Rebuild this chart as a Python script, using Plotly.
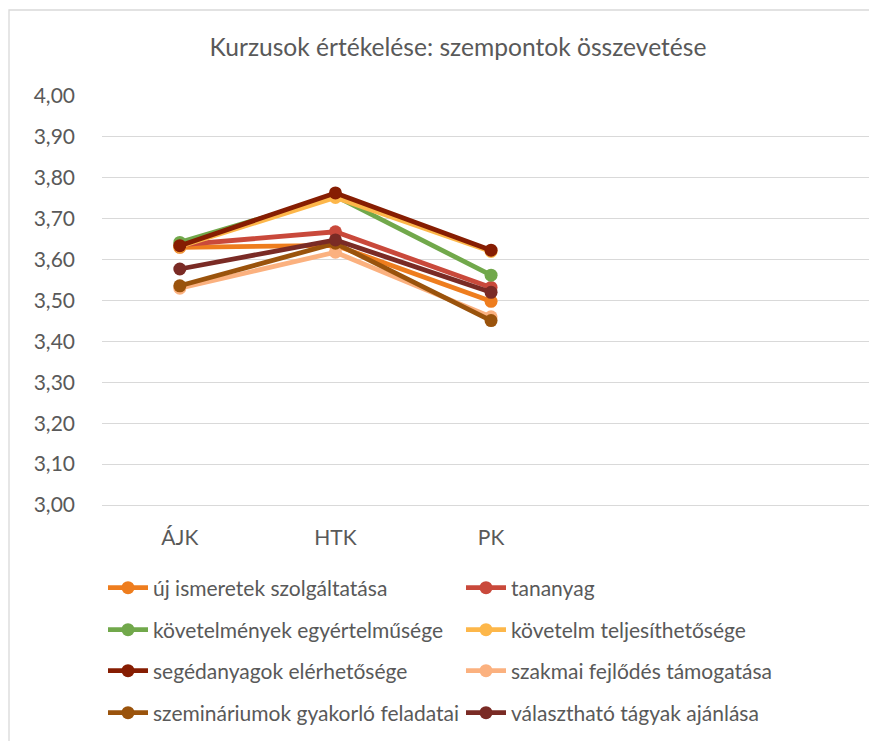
import plotly.graph_objects as go

categories = ["ÁJK", "HTK", "PK"]
series_names = [
    "új ismeretek szolgáltatása",
    "tananyag",
    "követelmények egyértelműsége",
    "követelm teljesíthetősége",
    "segédanyagok elérhetősége",
    "szakmai fejlődés támogatása",
    "szemináriumok gyakorló feladatai",
    "választható tágyak ajánlása",
]
uj_ismeretek = [3.630, 3.635, 3.498]
tananyag = [3.636, 3.668, 3.532]
kovetelmenyek = [3.642, 3.755, 3.562]
kovetelm_telj = [3.632, 3.752, 3.620]
segedanyagok = [3.634, 3.763, 3.623]
szakmai = [3.530, 3.618, 3.460]
szeminarium = [3.536, 3.640, 3.451]
valaszthato = [3.577, 3.648, 3.520]
series_values = [uj_ismeretek, tananyag, kovetelmenyek, kovetelm_telj,
                 segedanyagok, szakmai, szeminarium, valaszthato]
colors = ["#EE7D1E", "#C9493B", "#71A84B", "#FDB74A",
          "#861D02", "#FBB17F", "#9A530C", "#7A2B25"]
y_ticks = [3.0, 3.1, 3.2, 3.3, 3.4, 3.5, 3.6, 3.7, 3.8, 3.9, 4.0]

# page body has an 8px margin; figure coordinates are screen - 8
W, H = 869, 733
L, R, T, B = 94, 0, 88, 236
FONT = "Lato, 'Open Sans', sans-serif"
GRAY = "#595959"

fig = go.Figure()
for i, (name, vals, c) in enumerate(zip(series_names, series_values, colors)):
    fig.add_trace(go.Scatter(
        x=[0, 1, 2], y=vals, name=name, mode="lines+markers",
        line=dict(color=c, width=4.8),
        marker=dict(color=c, size=13),
        legend="legend" if i // 2 == 0 else f"legend{i // 2 + 1}",
    ))

rows_screen_y = [588, 630, 671, 713]
legends = {}
for r, yy in enumerate(rows_screen_y):
    key = "legend" if r == 0 else f"legend{r + 1}"
    legends[key] = dict(
        orientation="h", xref="container", yref="container",
        x=95 / W, y=1 - (yy - 8) / H, xanchor="left", yanchor="middle",
        entrywidth=303, entrywidthmode="pixels", itemwidth=40,
        font=dict(family=FONT, size=21, color=GRAY),
        bgcolor="rgba(0,0,0,0)", borderwidth=0,
        traceorder="normal", itemclick=False,
    )

fig.update_layout(
    width=W, height=H,
    margin=dict(l=L, r=R, t=T, b=B),
    paper_bgcolor="white", plot_bgcolor="white",
    separators=", ",
    title=dict(text="Kurzusok értékelése: szempontok összevetése",
               font=dict(family=FONT, size=24.6, color=GRAY),
               xref="container", x=450 / W, xanchor="center",
               yref="container", y=1 - 39 / H, yanchor="middle"),
    xaxis=dict(range=[-0.5, 4.48], tickmode="array", tickvals=[0, 1, 2],
               ticktext=categories, showgrid=False, zeroline=False,
               showline=True, linecolor="#D9D9D9", linewidth=1.3,
               tickfont=dict(family=FONT, size=21, color=GRAY),
               ticks="", ticklabelstandoff=14, fixedrange=True),
    yaxis=dict(range=[3.0, 4.0], tickmode="array", tickvals=y_ticks,
               tickformat=".2f", showgrid=True, gridcolor="#D9D9D9",
               gridwidth=1.3, zeroline=False, showline=False,
               tickfont=dict(family=FONT, size=21, color=GRAY),
               ticks="", ticklabelstandoff=26, fixedrange=True),
    shapes=[dict(type="rect", xref="paper", yref="paper",
                 x0=(1 - L) / (W - L - R), x1=1.05,
                 y0=-1.0, y1=1 + (T - 2) / (H - T - B),
                 line=dict(color="#D9D9D9", width=1.3),
                 fillcolor="rgba(0,0,0,0)", layer="below")],
    **legends,
)

fig.write_html("out.html")
